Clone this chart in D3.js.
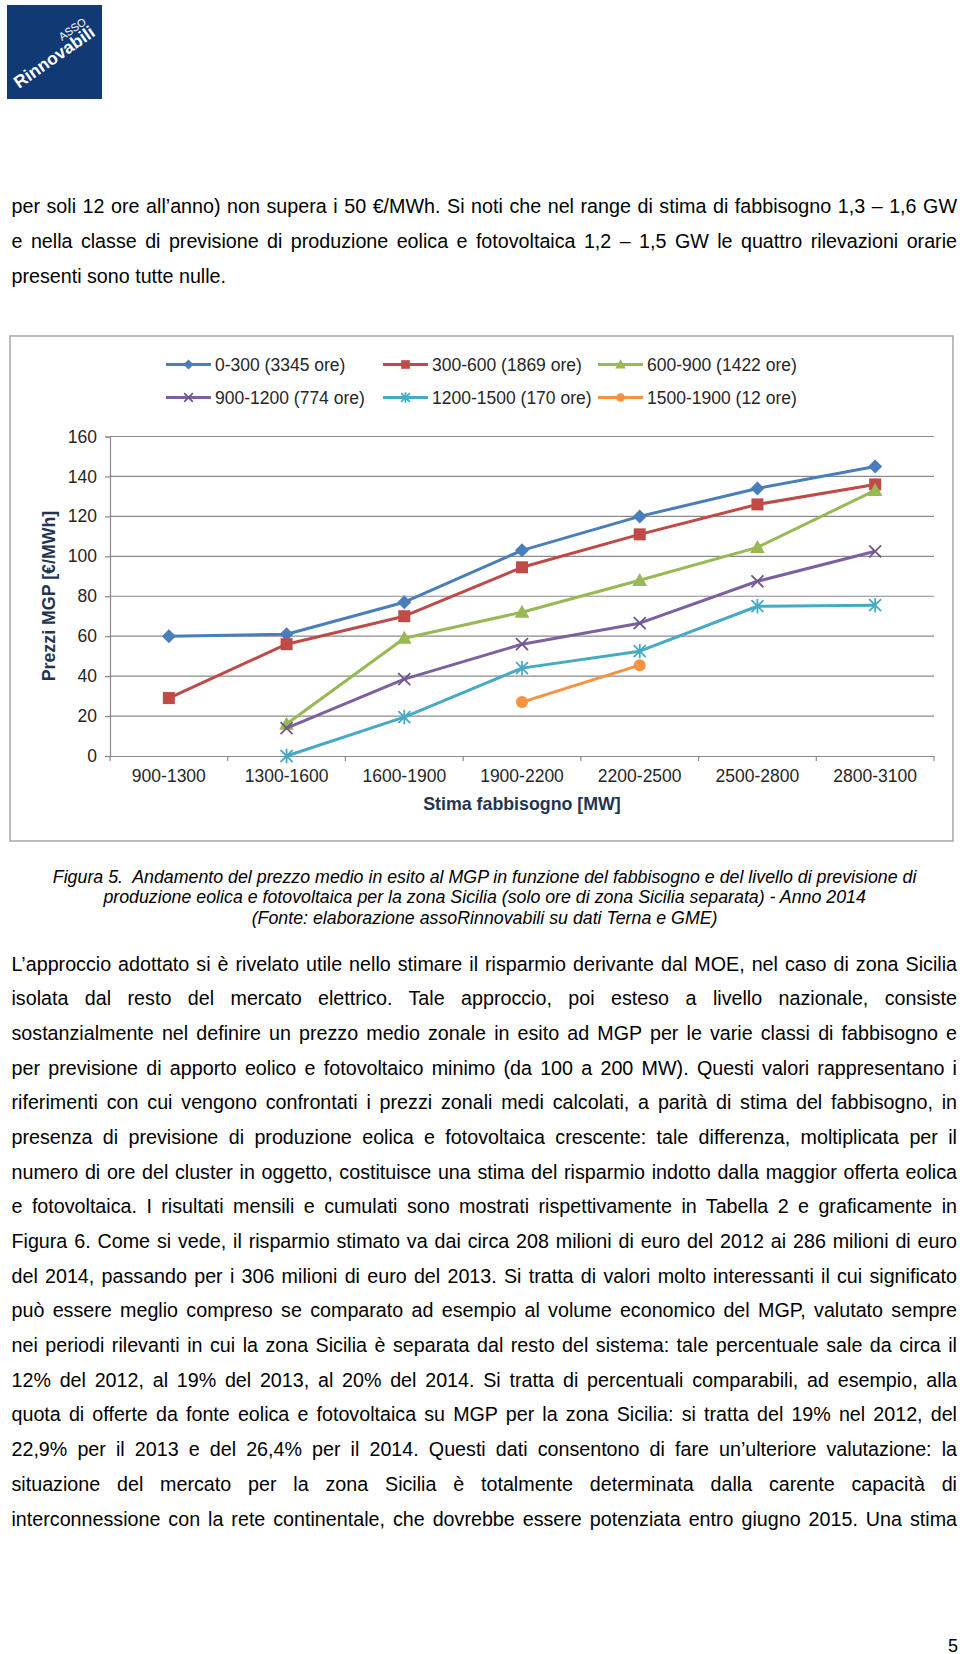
<!DOCTYPE html>
<html><head><meta charset="utf-8">
<script src="https://cdn.jsdelivr.net/npm/d3@7"></script>
<style>
html,body{margin:0;padding:0;background:#fff;}
svg{display:block;}
</style></head><body>
<svg id="page" width="960" height="1654"></svg>
<script>
// ---------- DATA ----------
const categories = ["900-1300","1300-1600","1600-1900","1900-2200","2200-2500","2500-2800","2800-3100"];
const seriesNames = ["0-300 (3345 ore)","300-600 (1869 ore)","600-900 (1422 ore)","900-1200 (774 ore)","1200-1500 (170 ore)","1500-1900 (12 ore)"];
const s0_300     = [60, 61, 77, 103, 120, 134, 145];
const s300_600   = [29, 56, 70, 94.5, 111, 126, 136];
const s600_900   = [null, 16, 59, 72, 88, 104.5, 133];
const s900_1200  = [null, 14, 38.5, 56, 66.5, 87.5, 102.5];
const s1200_1500 = [null, 0, 19.5, 44, 52.5, 75, 75.5];
const s1500_1900 = [null, null, null, 27, 45.5, null, null];
const yTicks = [0, 20, 40, 60, 80, 100, 120, 140, 160];
const yTitle = "Prezzi MGP [€/MWh]";
const xTitle = "Stima fabbisogno [MW]";

const topLines = [
  "per soli 12 ore all’anno) non supera i 50 €/MWh. Si noti che nel range di stima di fabbisogno 1,3 – 1,6 GW",
  "e nella classe di previsione di produzione eolica e fotovoltaica 1,2 – 1,5 GW le quattro rilevazioni orarie",
  "presenti sono tutte nulle."
];
const captionLines = [
  "Figura 5.  Andamento del prezzo medio in esito al MGP in funzione del fabbisogno e del livello di previsione di",
  "produzione eolica e fotovoltaica per la zona Sicilia (solo ore di zona Sicilia separata) - Anno 2014",
  "(Fonte: elaborazione assoRinnovabili su dati Terna e GME)"
];
const bodyLines = [
  "L’approccio adottato si è rivelato utile nello stimare il risparmio derivante dal MOE, nel caso di zona Sicilia",
  "isolata dal resto del mercato elettrico. Tale approccio, poi esteso a livello nazionale, consiste",
  "sostanzialmente nel definire un prezzo medio zonale in esito ad MGP per le varie classi di fabbisogno e",
  "per previsione di apporto eolico e fotovoltaico minimo (da 100 a 200 MW). Questi valori rappresentano i",
  "riferimenti con cui vengono confrontati i prezzi zonali medi calcolati, a parità di stima del fabbisogno, in",
  "presenza di previsione di produzione eolica e fotovoltaica crescente: tale differenza, moltiplicata per il",
  "numero di ore del cluster in oggetto, costituisce una stima del risparmio indotto dalla maggior offerta eolica",
  "e fotovoltaica. I risultati mensili e cumulati sono mostrati rispettivamente in Tabella 2 e graficamente in",
  "Figura 6. Come si vede, il risparmio stimato va dai circa 208 milioni di euro del 2012 ai 286 milioni di euro",
  "del 2014, passando per i 306 milioni di euro del 2013. Si tratta di valori molto interessanti il cui significato",
  "può essere meglio compreso se comparato ad esempio al volume economico del MGP, valutato sempre",
  "nei periodi rilevanti in cui la zona Sicilia è separata dal resto del sistema: tale percentuale sale da circa il",
  "12% del 2012, al 19% del 2013, al 20% del 2014. Si tratta di percentuali comparabili, ad esempio, alla",
  "quota di offerte da fonte eolica e fotovoltaica su MGP per la zona Sicilia: si tratta del 19% nel 2012, del",
  "22,9% per il 2013 e del 26,4% per il 2014. Questi dati consentono di fare un’ulteriore valutazione: la",
  "situazione del mercato per la zona Sicilia è totalmente determinata dalla carente capacità di",
  "interconnessione con la rete continentale, che dovrebbe essere potenziata entro giugno 2015. Una stima"
];
const pageNumber = "5";

// ---------- STYLE ----------
const FONT = "'Liberation Sans', Arial, sans-serif";
const colors = ["#4a7ebb", "#be4b48", "#98b954", "#7d60a0", "#46aac5", "#f69240"];
const markerTypes = ["diamond", "square", "triangle", "x", "asterisk", "circle"];
const allSeries = [s0_300, s300_600, s600_900, s900_1200, s1200_1500, s1500_1900];

const svg = d3.select("#page");
svg.append("rect").attr("width", 960).attr("height", 1654).attr("fill", "#fff");

// ---------- LOGO ----------
const logo = svg.append("g");
logo.append("rect").attr("x", 7).attr("y", 5).attr("width", 95).attr("height", 94).attr("fill", "#113a74");
logo.append("text").attr("transform", "translate(19,89) rotate(-35)")
  .attr("fill", "#fff").attr("font-family", FONT).attr("font-weight", 700)
  .attr("font-size", 17.5).text("Rinnovabili");
logo.append("text").attr("transform", "translate(62,41) rotate(-35)")
  .attr("fill", "#fff").attr("font-family", FONT)
  .attr("font-size", 11).text("ASSO");

// ---------- TEXT HELPERS ----------
function justifiedLines(lines, x0, width, y0, lh, size, justifyLast) {
  lines.forEach((ln, i) => {
    const t = svg.append("text").attr("x", x0).attr("y", y0 + i * lh)
      .attr("font-family", FONT).attr("font-size", size).attr("fill", "#000").text(ln);
    if (i < lines.length - 1 || justifyLast) {
      const nat = t.node().getComputedTextLength();
      const sp = (ln.match(/ /g) || []).length;
      if (sp > 0) t.style("word-spacing", ((width - nat) / sp) + "px");
    }
  });
}

justifiedLines(topLines, 11.5, 945.5, 213, 35, 19.7, false);
justifiedLines(bodyLines, 11.5, 945.5, 970.5, 34.69, 19.7, true);

captionLines.forEach((ln, i) => {
  svg.append("text").attr("x", 484.6).attr("y", 882.5 + i * 20.6)
    .attr("text-anchor", "middle").attr("font-family", FONT).attr("font-style", "italic")
    .attr("font-size", 17.8).attr("fill", "#000")
    .attr("xml:space", "preserve").style("white-space", "pre").text(ln);
});

svg.append("text").attr("x", 958).attr("y", 1651.5).attr("text-anchor", "end")
  .attr("font-family", FONT).attr("font-size", 18).attr("fill", "#000").text(pageNumber);

// ---------- CHART ----------
svg.append("rect").attr("x", 10).attr("y", 336).attr("width", 943).attr("height", 505)
  .attr("fill", "#fff").attr("stroke", "#a6a6a6").attr("stroke-width", 1.5);

const x = d3.scaleBand().domain(categories).range([110, 934]).padding(0);
const y = d3.scaleLinear().domain([0, 160]).range([756, 436.5]);
const gridColor = "#8a8a8a";
const tickText = "#262626";
const titleColor = "#1f3552";

// gridlines
svg.append("g").selectAll("line").data(yTicks.filter(d => d > 0)).join("line")
  .attr("x1", 110).attr("x2", 934).attr("y1", d => y(d)).attr("y2", d => y(d))
  .attr("stroke", gridColor).attr("stroke-width", 1.2);

// y axis
const yAxis = svg.append("g").attr("transform", "translate(110,0)")
  .call(d3.axisLeft(y).tickValues(yTicks).tickSize(5).tickPadding(8).tickFormat(d3.format("d")));
yAxis.select(".domain").attr("stroke", gridColor).attr("stroke-width", 1.2);
yAxis.selectAll(".tick line").attr("stroke", gridColor).attr("stroke-width", 1.2);
yAxis.selectAll(".tick text").attr("font-family", FONT).attr("font-size", 17.5).attr("fill", tickText);

// x axis
const xAxis = svg.append("g").attr("transform", "translate(0,756)")
  .call(d3.axisBottom(x).tickSize(0).tickPadding(14));
xAxis.select(".domain").attr("stroke", gridColor).attr("stroke-width", 1.2);
xAxis.selectAll(".tick text").attr("font-family", FONT).attr("font-size", 17.5).attr("fill", tickText)
  .attr("dy", "0.71em");
// x ticks at band boundaries
const bounds = categories.map(c => x(c)).concat([x(categories[categories.length - 1]) + x.bandwidth()]);
svg.append("g").selectAll("line").data(bounds).join("line")
  .attr("x1", d => d).attr("x2", d => d).attr("y1", 756).attr("y2", 761)
  .attr("stroke", gridColor).attr("stroke-width", 1.2);

// axis titles
svg.append("text").attr("x", 522).attr("y", 810).attr("text-anchor", "middle")
  .attr("font-family", FONT).attr("font-weight", 700).attr("font-size", 17.8).attr("fill", titleColor).text(xTitle);
svg.append("text").attr("transform", "translate(54.5,596) rotate(-90)").attr("text-anchor", "middle")
  .attr("font-family", FONT).attr("font-weight", 700).attr("font-size", 17.8).attr("fill", titleColor).text(yTitle);

// marker drawer
function drawMarker(g, type, color, s) {
  if (type === "diamond") {
    g.append("path").attr("d", `M0,${-s}L${s},0L0,${s}L${-s},0Z`).attr("fill", color);
  } else if (type === "square") {
    g.append("rect").attr("x", -s).attr("y", -s).attr("width", 2 * s).attr("height", 2 * s).attr("fill", color);
  } else if (type === "triangle") {
    g.append("path").attr("d", `M0,${-s * 1.05}L${s * 1.05},${s * 0.8}L${-s * 1.05},${s * 0.8}Z`).attr("fill", color);
  } else if (type === "x") {
    g.append("path").attr("d", `M${-s},${-s}L${s},${s}M${-s},${s}L${s},${-s}`)
      .attr("stroke", d3.color(color).darker(0.3)).attr("stroke-width", 1.8).attr("fill", "none");
  } else if (type === "asterisk") {
    g.append("path").attr("d", `M${-s},${-s}L${s},${s}M${-s},${s}L${s},${-s}M0,${-s * 1.2}L0,${s * 1.2}`)
      .attr("stroke", color).attr("stroke-width", 1.8).attr("fill", "none");
  } else if (type === "circle") {
    g.append("circle").attr("r", s).attr("fill", color);
  }
}
const markerSize = [7, 6, 7, 6, 6, 6];

// lines and markers
const line = d3.line().defined(d => d.v !== null).x(d => x(d.c) + x.bandwidth() / 2).y(d => y(d.v));
allSeries.forEach((vals, i) => {
  const pts = vals.map((v, j) => ({ c: categories[j], v: v }));
  svg.append("path").datum(pts).attr("d", line).attr("fill", "none")
    .attr("stroke", colors[i]).attr("stroke-width", 3).attr("stroke-linejoin", "round");
  pts.filter(p => p.v !== null).forEach(p => {
    const g = svg.append("g").attr("transform", `translate(${x(p.c) + x.bandwidth() / 2},${y(p.v)})`);
    drawMarker(g, markerTypes[i], colors[i], markerSize[i]);
  });
});

// legend
const legX = [166, 383, 598];
const legY = [364.5, 397.5];
seriesNames.forEach((name, i) => {
  const lx = legX[i % 3], ly = legY[Math.floor(i / 3)];
  const g = svg.append("g");
  g.append("line").attr("x1", lx).attr("x2", lx + 45).attr("y1", ly).attr("y2", ly)
    .attr("stroke", colors[i]).attr("stroke-width", 3);
  const mg = g.append("g").attr("transform", `translate(${lx + 22.5},${ly})`);
  drawMarker(mg, markerTypes[i], colors[i], markerSize[i] * 0.72);
  g.append("text").attr("x", lx + 49).attr("y", ly + 6.2)
    .attr("font-family", FONT).attr("font-size", 17.5).attr("fill", tickText).text(name);
});
</script>
</body></html>
